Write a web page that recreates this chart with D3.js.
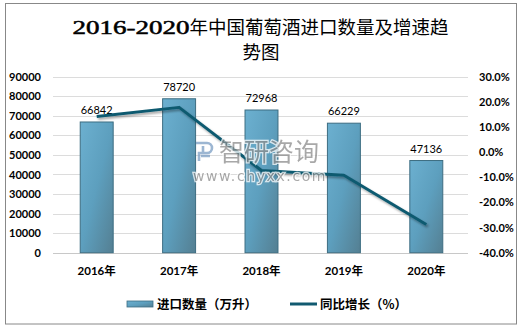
<!DOCTYPE html>
<html><head><meta charset="utf-8">
<script src="https://cdn.jsdelivr.net/npm/d3@7"></script>
<style>body{margin:0;background:#fff}svg{display:block}</style>
</head><body>
<svg id="c" width="524" height="328"></svg>
<script>
const categories = ["2016年","2017年","2018年","2019年","2020年"];
const volume = [66842, 78720, 72968, 66229, 47136];
const growth = [14.2, 17.8, -7.3, -9.2, -28.8];
const leftTicks = [0,10000,20000,30000,40000,50000,60000,70000,80000,90000];
const rightTicks = [-40,-30,-20,-10,0,10,20,30];

const svg = d3.select("#c");
const defs = svg.append("defs");
const g1 = defs.append("linearGradient").attr("id","bar").attr("x1","0").attr("y1","0").attr("x2","1").attr("y2","1");
g1.append("stop").attr("offset","0").attr("stop-color","#6cb0d0");
g1.append("stop").attr("offset","0.5").attr("stop-color","#5d9fbe");
g1.append("stop").attr("offset","1").attr("stop-color","#547f92");
const f = defs.append("filter").attr("id","sh").attr("x","-10%").attr("y","-20%").attr("width","120%").attr("height","140%");
f.append("feDropShadow").attr("dx",1.5).attr("dy",2).attr("stdDeviation",1.2).attr("flood-color","#000").attr("flood-opacity",0.35);

// border
svg.append("rect").attr("x",5.5).attr("y",3.5).attr("width",511).attr("height",320.5)
  .attr("fill","#fff").attr("stroke","#888").attr("stroke-width",1);

// title
const title = svg.append("text").attr("x",260.5).attr("y",34).attr("text-anchor","middle")
  .attr("font-family","'Liberation Serif','Noto Sans CJK SC',serif").attr("font-size",19).attr("fill","#000");
title.append("tspan").attr("stroke","#000").attr("stroke-width",0.5).attr("textLength",117).attr("lengthAdjust","spacingAndGlyphs").text("2016-2020");
title.append("tspan").attr("font-family","'Noto Sans CJK SC',sans-serif").attr("font-size",18.5).text("年中国葡萄酒进口数量及增速趋");
svg.append("text").attr("x",261).attr("y",59).attr("text-anchor","middle")
  .attr("font-family","'Noto Sans CJK SC',sans-serif").attr("font-size",18.5).attr("fill","#000").text("势图");

const x = d3.scaleBand().domain(categories).range([55.5,467.5]).paddingInner(0.6).paddingOuter(0.3);
const yL = d3.scaleLinear().domain([0,90000]).range([252.7,76.7]);
const yR = d3.scaleLinear().domain([-40,30]).range([252.7,76.7]);

// gridlines
svg.append("g").selectAll("line").data(leftTicks).join("line")
  .attr("x1",53).attr("x2",468).attr("y1",d=>Math.round(yL(d))+0.5).attr("y2",d=>Math.round(yL(d))+0.5)
  .attr("stroke",d=>d===0?"#c8c8c8":"#dcdcdc").attr("stroke-width",1);

// left axis
const la = svg.append("g").attr("transform","translate(50,0)")
  .call(d3.axisLeft(yL).tickValues(leftTicks).tickSize(0).tickPadding(9).tickFormat(d3.format("d")));
la.select(".domain").remove();
la.selectAll("text").attr("font-family","Lato,sans-serif").attr("font-weight","bold").attr("font-size",11).attr("fill","#000");

// right axis
const ra = svg.append("g").attr("transform","translate(470,0)")
  .call(d3.axisRight(yR).tickValues(rightTicks).tickSize(0).tickPadding(9).tickFormat(d=>d.toFixed(1)+"%"));
ra.select(".domain").remove();
ra.selectAll("text").attr("font-family","Lato,sans-serif").attr("font-weight","bold").attr("font-size",11).attr("fill","#000");

// x axis
const xa = svg.append("g").attr("transform","translate(0,253)")
  .call(d3.axisBottom(x).tickSize(0).tickPadding(14));
xa.select(".domain").remove();
xa.selectAll("text").attr("font-family","Lato,'Noto Sans CJK SC',sans-serif").attr("font-weight","bold").attr("font-size",11.5).attr("fill","#000");

// bars
svg.append("g").selectAll("rect").data(volume).join("rect")
  .attr("x",(d,i)=>x(categories[i])).attr("width",x.bandwidth())
  .attr("y",d=>yL(d)).attr("height",d=>yL(0)-yL(d))
  .attr("fill","url(#bar)").attr("stroke","#3d6d82").attr("stroke-width",1);

// data labels
svg.append("g").selectAll("text").data(volume).join("text")
  .attr("x",(d,i)=>x(categories[i])+x.bandwidth()/2).attr("y",d=>yL(d)-8)
  .attr("text-anchor","middle").attr("font-family","Lato,sans-serif").attr("font-size",11).attr("fill","#000")
  .text(d=>d);

// line
const line = d3.line().x((d,i)=>x(categories[i])+x.bandwidth()/2).y(d=>yR(d));
svg.append("path").datum(growth).attr("d",line).attr("fill","none")
  .attr("stroke","#115a70").attr("stroke-width",3).attr("stroke-linejoin","round").attr("filter","url(#sh)");

// watermark
const wm = svg.append("g").attr("opacity",0.75);
wm.append("path").attr("d","M196,143 h11 a5,5 0 0 1 0,10 h-8 v8 M203,146 v6 M210,156 h-9")
  .attr("fill","none").attr("stroke","#7b9ec4").attr("stroke-width",2.6);
wm.append("text").attr("x",219).attr("y",161).attr("font-family","'Noto Sans CJK SC',sans-serif").attr("font-size",25)
  .attr("fill","#8c8c8c").attr("stroke","#fff").attr("stroke-width",2.5).attr("paint-order","stroke").text("智研咨询");
wm.append("text").attr("x",193).attr("y",181).attr("font-family","'DejaVu Sans',sans-serif").attr("font-size",14).attr("letter-spacing",1.6)
  .attr("fill","#8c8c8c").attr("stroke","#fff").attr("stroke-width",2.5).attr("paint-order","stroke").text("www.chyxx.com");

// legend
const lg = svg.append("g");
lg.append("rect").attr("x",127).attr("y",301).attr("width",26).attr("height",6).attr("fill","url(#bar)").attr("stroke","#3d6d82").attr("stroke-width",0.8);
lg.append("text").attr("x",157).attr("y",309).attr("font-family","'Noto Sans CJK SC',sans-serif").attr("font-weight","bold").attr("font-size",12.5).attr("fill","#000").text("进口数量（万升）");
lg.append("line").attr("x1",290).attr("x2",317).attr("y1",304).attr("y2",304).attr("stroke","#115a70").attr("stroke-width",3);
lg.append("text").attr("x",320).attr("y",309).attr("font-family","'Noto Sans CJK SC',sans-serif").attr("font-weight","bold").attr("font-size",12.5).attr("fill","#000").text("同比增长（%）");
</script>
</body></html>
